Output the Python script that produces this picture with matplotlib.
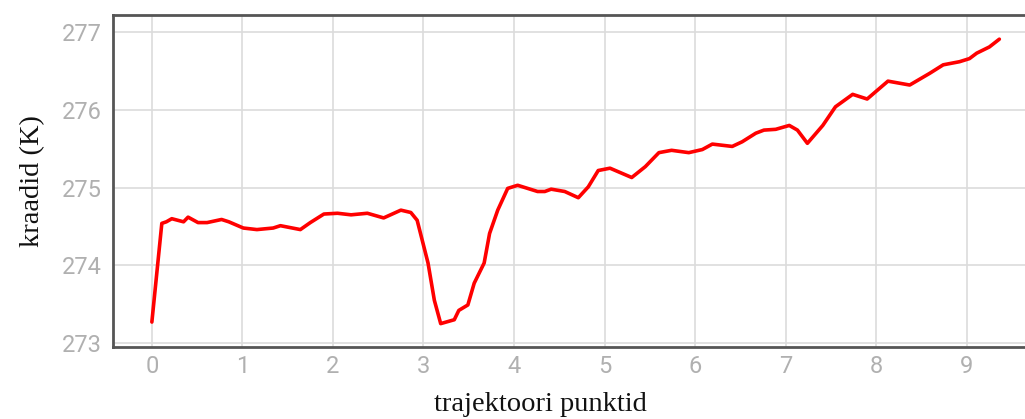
import matplotlib
matplotlib.use("Agg")
import matplotlib.pyplot as plt

# Temperature along the trajectory points
x_points = [0.00, 0.11, 0.16, 0.22, 0.35, 0.40, 0.51, 0.61, 0.77, 0.85, 1.01, 1.16,
            1.34, 1.42, 1.64, 1.75, 1.90, 2.05, 2.20, 2.38, 2.56, 2.75, 2.86, 2.93,
            3.05, 3.12, 3.19, 3.34, 3.39, 3.49, 3.56, 3.67, 3.73, 3.82, 3.93, 4.04,
            4.26, 4.34, 4.41, 4.56, 4.71, 4.82, 4.93, 5.06, 5.30, 5.45, 5.60, 5.74,
            5.93, 6.08, 6.19, 6.41, 6.52, 6.67, 6.76, 6.89, 7.04, 7.13, 7.24, 7.41,
            7.55, 7.74, 7.90, 8.13, 8.37, 8.59, 8.74, 8.92, 9.03, 9.11, 9.25, 9.36]
temperature_k = [273.27, 274.54, 274.56, 274.60, 274.56, 274.62, 274.55, 274.55, 274.59,
                 274.56, 274.48, 274.46, 274.48, 274.51, 274.46, 274.55, 274.66, 274.67,
                 274.65, 274.67, 274.61, 274.71, 274.68, 274.58, 274.03, 273.55, 273.25,
                 273.30, 273.42, 273.49, 273.77, 274.03, 274.41, 274.71, 274.99, 275.03,
                 274.95, 274.95, 274.98, 274.95, 274.87, 275.01, 275.22, 275.25, 275.13,
                 275.27, 275.45, 275.48, 275.45, 275.49, 275.56, 275.53, 275.59, 275.70,
                 275.74, 275.75, 275.80, 275.74, 275.57, 275.80, 276.04, 276.20, 276.14,
                 276.37, 276.32, 276.47, 276.58, 276.62, 276.66, 276.73, 276.81, 276.91]

x_ticks = list(range(0, 10))
y_ticks = [273, 274, 275, 276, 277]

fig = plt.figure(figsize=(10.25, 4.19), dpi=100)
ax = fig.add_axes([0.110, 0.172, 0.895, 0.792])

ax.plot(x_points, temperature_k, color="#ff0000", linewidth=2.6,
        solid_joinstyle="round", solid_capstyle="round", zorder=3)

ax.set_xlim(-0.432, 9.70)
ax.set_ylim(272.95, 277.22)
ax.set_xticks(x_ticks)
ax.set_yticks(y_ticks)
ax.grid(True, color="#dcdcdc", linewidth=1.2)
ax.set_axisbelow(True)

for side in ("left", "bottom", "top"):
    ax.spines[side].set_color("#555555")
    ax.spines[side].set_linewidth(2.0)
ax.spines["right"].set_visible(False)

ax.tick_params(length=0, labelcolor="#b0b0b0", labelsize=17)
ax.tick_params(axis="y", pad=8)
ax.tick_params(axis="x", pad=6)
for lbl in ax.get_xticklabels() + ax.get_yticklabels():
    lbl.set_family(["Roboto", "DejaVu Sans"])

ax.set_xlabel("trajektoori punktid", family="Liberation Serif", fontsize=20.5,
              color="#111111")
ax.xaxis.set_label_coords(0.466, -0.135)
ax.set_ylabel("kraadid (K)", family="Liberation Serif", fontsize=20.5,
              color="#111111", labelpad=12)

fig.savefig("out.png", dpi=100, facecolor="white")
